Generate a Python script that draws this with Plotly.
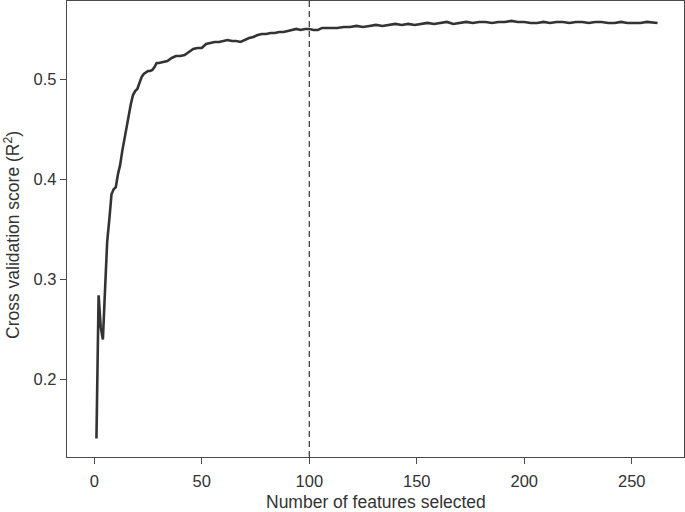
"""Cross validation score vs number of features (RFECV style)."""

import plotly.graph_objects as go

# number of features selected
n_features = [
    1, 2, 3, 4, 5, 6, 7, 8, 9, 10, 11, 12, 13, 14, 15, 16, 17, 18, 19, 20,
    21, 22, 23, 24, 25, 26, 27, 28, 29, 30, 32, 34, 36, 38, 40, 42, 44, 46,
    48, 50, 52, 54, 56, 58, 60, 62, 64, 66, 68, 70, 72, 74, 76, 78, 80, 82,
    84, 86, 88, 90, 92, 94, 96, 98, 100, 102, 104, 106, 108, 110, 113, 116,
    119, 122, 125, 128, 131, 134, 137, 140, 143, 146, 149, 152, 155, 158,
    161, 164, 167, 170, 173, 176, 179, 182, 185, 188, 191, 194, 197, 200,
    203, 206, 209, 212, 215, 218, 221, 224, 227, 230, 233, 236, 239, 242,
    245, 248, 251, 254, 257, 260, 262,
]
# cross validation score (R^2)
cv_score = [
    0.141, 0.284, 0.252, 0.240, 0.290, 0.338, 0.360, 0.385, 0.390, 0.392,
    0.405, 0.414, 0.428, 0.440, 0.455, 0.464, 0.475, 0.484, 0.488, 0.490,
    0.496, 0.502, 0.505, 0.507, 0.508, 0.508, 0.509, 0.512, 0.516, 0.516,
    0.517, 0.518, 0.521, 0.523, 0.523, 0.524, 0.527, 0.530, 0.531, 0.531,
    0.535, 0.536, 0.537, 0.537, 0.538, 0.539, 0.538, 0.538, 0.537, 0.539,
    0.541, 0.542, 0.544, 0.545, 0.545, 0.546, 0.546, 0.547, 0.547, 0.548,
    0.549, 0.550, 0.549, 0.550, 0.550, 0.549, 0.549, 0.551, 0.551, 0.551,
    0.551, 0.552, 0.552, 0.553, 0.552, 0.553, 0.554, 0.553, 0.554, 0.555,
    0.554, 0.555, 0.554, 0.555, 0.556, 0.555, 0.556, 0.557, 0.555, 0.556,
    0.557, 0.556, 0.557, 0.557, 0.556, 0.557, 0.557, 0.558, 0.557, 0.557,
    0.556, 0.556, 0.557, 0.556, 0.557, 0.557, 0.556, 0.557, 0.557, 0.556,
    0.557, 0.557, 0.556, 0.556, 0.557, 0.556, 0.556, 0.556, 0.557, 0.556,
    0.556,
]
selected = 100
x_ticks = [0, 50, 100, 150, 200, 250]
y_ticks = [0.2, 0.3, 0.4, 0.5]

FONT = "Liberation Sans, Arial, sans-serif"
INK = "#333333"
FRAME = "#4a4a4a"

fig = go.Figure()
fig.add_trace(
    go.Scatter(
        x=n_features,
        y=cv_score,
        mode="lines",
        line=dict(color="#333333", width=2.6),
        showlegend=False,
    )
)
fig.add_vline(x=selected, line=dict(color="#333333", width=1.2, dash="6px,4px"))

axis_common = dict(
    showline=True,
    linecolor=FRAME,
    linewidth=1.3,
    mirror=True,
    showgrid=False,
    zeroline=False,
    automargin=False,
    ticks="outside",
    ticklen=6,
    tickwidth=1.2,
    tickcolor=FRAME,
    tickfont=dict(family=FONT, size=16.5, color=INK),
)

fig.update_xaxes(
    range=[-12.7, 274.3], tickvals=x_ticks, ticklabelstandoff=3, **axis_common
)
fig.update_yaxes(range=[0.1226, 0.5779], tickvals=y_ticks, **axis_common)

# axis titles placed as annotations so the margins stay fixed
title_font = dict(family=FONT, size=17.5, color=INK)
fig.add_annotation(
    text="Number of features selected",
    xref="paper", yref="paper", x=0.5, y=0,
    xanchor="center", yanchor="middle", yshift=-45,
    showarrow=False, font=title_font,
)
fig.add_annotation(
    text="Cross validation score (R<sup>2</sup>)",
    xref="paper", yref="paper", x=0, y=0.5,
    xanchor="center", yanchor="middle", xshift=-55, yshift=-6,
    textangle=-90, showarrow=False, font=title_font,
)

fig.update_layout(
    width=685,
    height=512,
    margin=dict(l=67, r=1, t=1, b=55),
    plot_bgcolor="white",
    paper_bgcolor="white",
)

# drop the browser's default body margin so the figure fills the window
fig.write_html(
    "out.html",
    config={"displayModeBar": False},
    post_script="document.body.style.margin = '0';",
)
